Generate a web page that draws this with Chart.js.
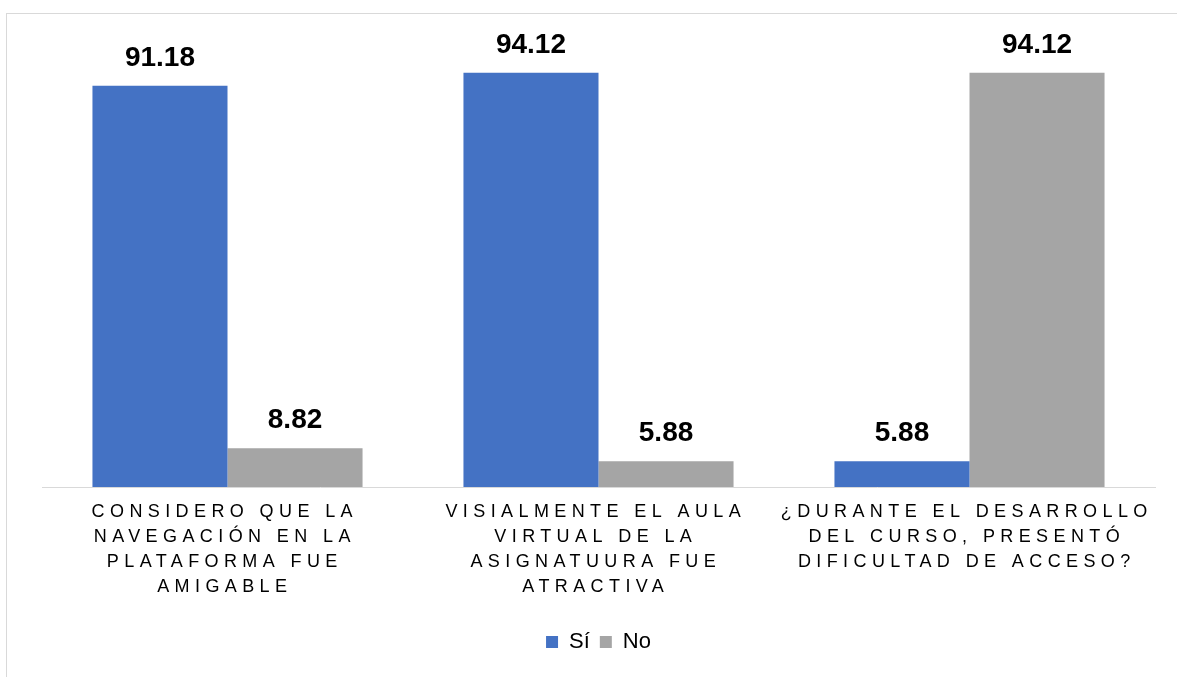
<!DOCTYPE html>
<html>
<head>
<meta charset="utf-8">
<script src="https://cdn.jsdelivr.net/npm/chart.js@4"></script>
<style>
  html, body { margin: 0; padding: 0; background: #fff; }
  #wrap { width: 1177px; height: 677px; position: relative; }
</style>
</head>
<body>
<div id="wrap"><canvas id="c" width="1177" height="677"></canvas></div>
<script>
const categories = [
  ["CONSIDERO QUE LA", "NAVEGACIÓN EN LA", "PLATAFORMA FUE", "AMIGABLE"],
  ["VISIALMENTE EL AULA", "VIRTUAL DE LA", "ASIGNATUURA FUE", "ATRACTIVA"],
  ["¿DURANTE EL DESARROLLO", "DEL CURSO, PRESENTÓ", "DIFICULTAD DE ACCESO?"]
];
const seriesNames = ["Sí", "No"];
const siValues = [91.18, 94.12, 5.88];
const noValues = [8.82, 5.88, 94.12];
const seriesColors = ["#4472C4", "#A5A5A5"];

const frame = {
  id: 'frame',
  beforeDraw(chart) {
    const ctx = chart.ctx;
    ctx.save();
    ctx.strokeStyle = '#d9d9d9';
    ctx.lineWidth = 1;
    ctx.strokeRect(6.5, 13.5, 1300, 800);
    ctx.restore();
    const s = chart.scales.x;
    if (s && !s._lsWrapped) {
      const orig = s.drawLabels.bind(s);
      s.drawLabels = function (area) {
        const c = this.ctx;
        c.save();
        c.letterSpacing = '5.4px';
        c.translate(-2.7, 0);
        orig(area);
        c.restore();
      };
      s._lsWrapped = true;
    }
  }
};

const valueLabels = {
  id: 'valueLabels',
  afterDatasetsDraw(chart) {
    const ctx = chart.ctx;
    ctx.save();
    ctx.font = 'bold 28px "Liberation Sans", Arial, sans-serif';
    ctx.fillStyle = '#000';
    ctx.textAlign = 'center';
    ctx.textBaseline = 'alphabetic';
    chart.data.datasets.forEach((ds, di) => {
      const meta = chart.getDatasetMeta(di);
      meta.data.forEach((bar, i) => {
        ctx.fillText(ds.data[i].toFixed(2), bar.x, bar.y - 20);
      });
    });
    ctx.restore();
  }
};

new Chart(document.getElementById('c'), {
  type: 'bar',
  data: {
    labels: categories,
    datasets: [
      { label: seriesNames[0], data: siValues, backgroundColor: seriesColors[0] },
      { label: seriesNames[1], data: noValues, backgroundColor: seriesColors[1] }
    ]
  },
  options: {
    responsive: false,
    animation: false,
    devicePixelRatio: 1,
    layout: { padding: { left: 42, right: 22, top: 47, bottom: 14 } },
    datasets: { bar: { categoryPercentage: 0.728, barPercentage: 1.0 } },
    scales: {
      y: { display: false, min: 0, max: 100 },
      x: {
        grid: { display: false },
        border: { display: true, color: '#d9d9d9', width: 1 },
        ticks: {
          color: '#000',
          font: { family: '"Liberation Sans", Arial, sans-serif', size: 18, lineHeight: 1.389 },
          maxRotation: 0, minRotation: 0, autoSkip: false, padding: 5
        },
        afterFit(scale) { scale.height = 134; }
      }
    },
    plugins: {
      legend: {
        position: 'bottom',
        labels: {
          color: '#000',
          boxWidth: 12, boxHeight: 12,
          padding: 10,
          font: { family: '"Liberation Sans", Arial, sans-serif', size: 22 }
        }
      },
      tooltip: { enabled: false }
    }
  },
  plugins: [frame, valueLabels]
});
</script>
</body>
</html>
